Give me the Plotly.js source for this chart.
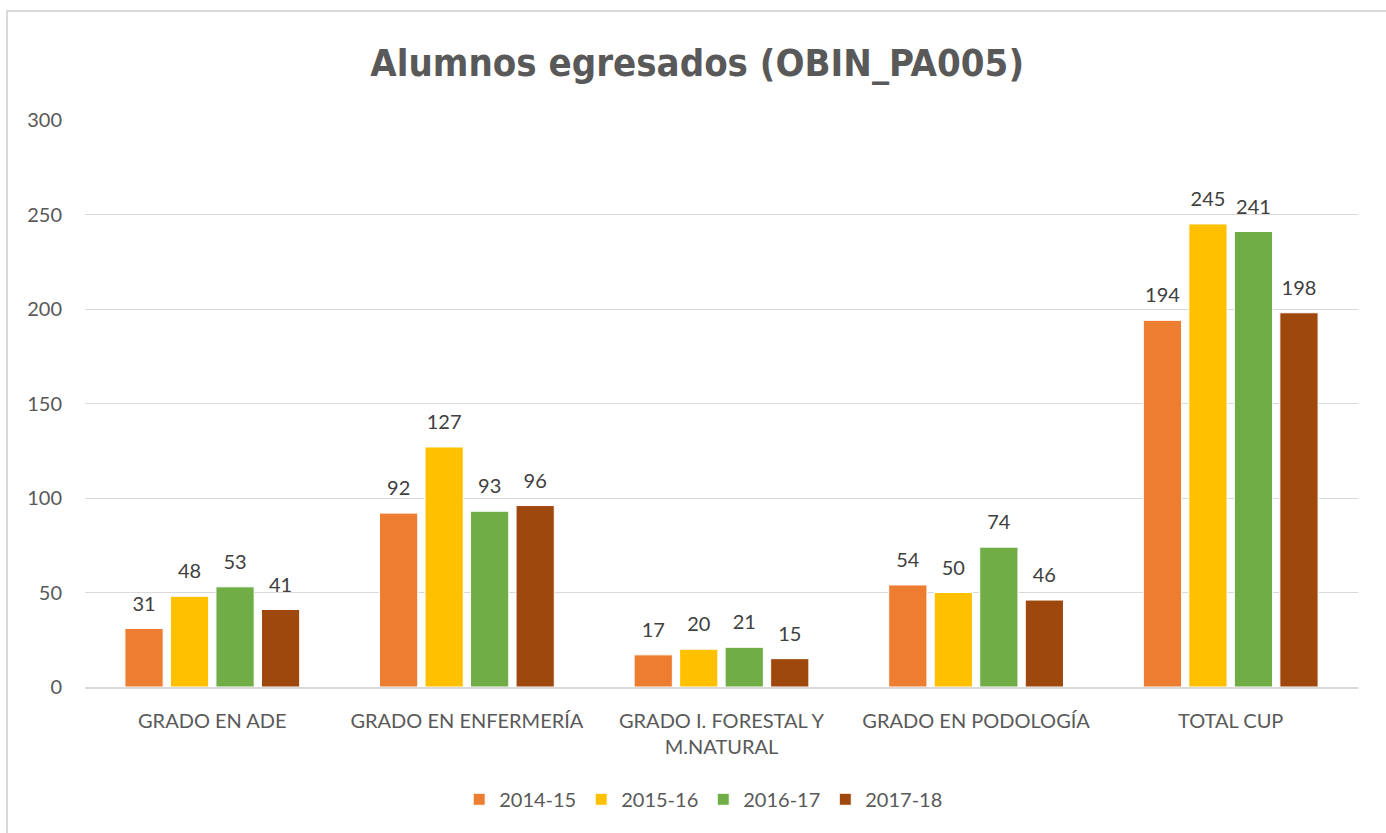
<!DOCTYPE html>
<html>
<head>
<meta charset="utf-8">
<script src="https://cdn.plot.ly/plotly-3.0.1.min.js"></script>
<style>
html,body{margin:0;padding:0;overflow:hidden;background:#fff;}
#frame{position:absolute;left:6px;top:10px;width:1500px;height:1000px;border:2px solid #D9D9D9;box-sizing:border-box;}
#chart{position:absolute;left:0;top:0;width:1386px;height:833px;}
</style>
</head>
<body>
<div id="frame"></div>
<div id="chart"></div>
<script>
const categories = ["GRADO EN ADE", "GRADO EN ENFERMERÍA", "GRADO I. FORESTAL Y<br>M.NATURAL", "GRADO EN PODOLOGÍA", "TOTAL CUP"];
const seriesNames = ["2014-15", "2015-16", "2016-17", "2017-18"];
const v2014_15 = [31, 92, 17, 54, 194];
const v2015_16 = [48, 127, 20, 50, 245];
const v2016_17 = [53, 93, 21, 74, 241];
const v2017_18 = [41, 96, 15, 46, 198];
const seriesColors = ["#ED7D31", "#FFC000", "#70AD47", "#9E480E"];
const yTicks = [0, 50, 100, 150, 200, 250, 300];

const GAP = 0.285;
const allValues = [v2014_15, v2015_16, v2016_17, v2017_18];
const barTraces = allValues.map((vals, i) => ({
  type: 'bar',
  name: seriesNames[i],
  x: categories,
  y: vals,
  offsetgroup: String(i),
  marker: {color: seriesColors[i], line: {color: '#FFFFFF', width: 1}},
  hoverinfo: 'x+y+name'
}));
const labelTraces = allValues.map((vals, i) => ({
  type: 'scatter',
  mode: 'markers+text',
  orientation: 'v',
  showlegend: false,
  x: categories,
  y: vals,
  offsetgroup: String(i),
  text: vals.map(String),
  textposition: 'top center',
  cliponaxis: false,
  marker: {size: 19, color: 'rgba(0,0,0,0)', opacity: 0},
  textfont: {family: 'Lato, "Open Sans", sans-serif', size: 20, color: '#404040'},
  hoverinfo: 'skip'
}));

const layout = {
  width: 1386, height: 833,
  paper_bgcolor: 'rgba(0,0,0,0)',
  plot_bgcolor: 'rgba(0,0,0,0)',
  margin: {l: 85, r: 28, t: 120, b: 146},
  title: {
    text: '<b>Alumnos egresados (OBIN_PA005)</b>',
    font: {family: '"Liberation Sans Narrow", "DejaVu Sans Condensed", "Liberation Sans", sans-serif', size: 38, color: '#595959'},
    x: 0.503, xanchor: 'center', y: 0.925, yanchor: 'middle'
  },
  barmode: 'group',
  bargap: GAP,
  bargroupgap: 0.16,
  scattermode: 'group',
  scattergap: GAP,
  xaxis: {
    type: 'category',
    showgrid: false,
    showline: true, linecolor: '#D9D9D9', linewidth: 2,
    ticks: '',
    ticklabelstandoff: 15,
    tickfont: {family: 'Lato, "Open Sans", sans-serif', size: 20, color: '#595959'}
  },
  yaxis: {
    range: [0, 300],
    tickvals: yTicks,
    showgrid: true, gridcolor: '#D9D9D9', gridwidth: 1,
    zeroline: false,
    showline: false,
    ticks: '',
    ticklabelstandoff: 22,
    tickfont: {family: 'Lato, "Open Sans", sans-serif', size: 20, color: '#595959'}
  },
  legend: {
    orientation: 'h',
    x: 0.486, xanchor: 'center',
    y: -0.198, yanchor: 'middle',
    font: {family: 'Lato, "Open Sans", sans-serif', size: 20, color: '#595959'},
    itemwidth: 30,
    traceorder: 'normal'
  },
  showlegend: true
};

Plotly.newPlot('chart', barTraces.concat(labelTraces), layout, {displayModeBar: false, staticPlot: true});
</script>
</body>
</html>
